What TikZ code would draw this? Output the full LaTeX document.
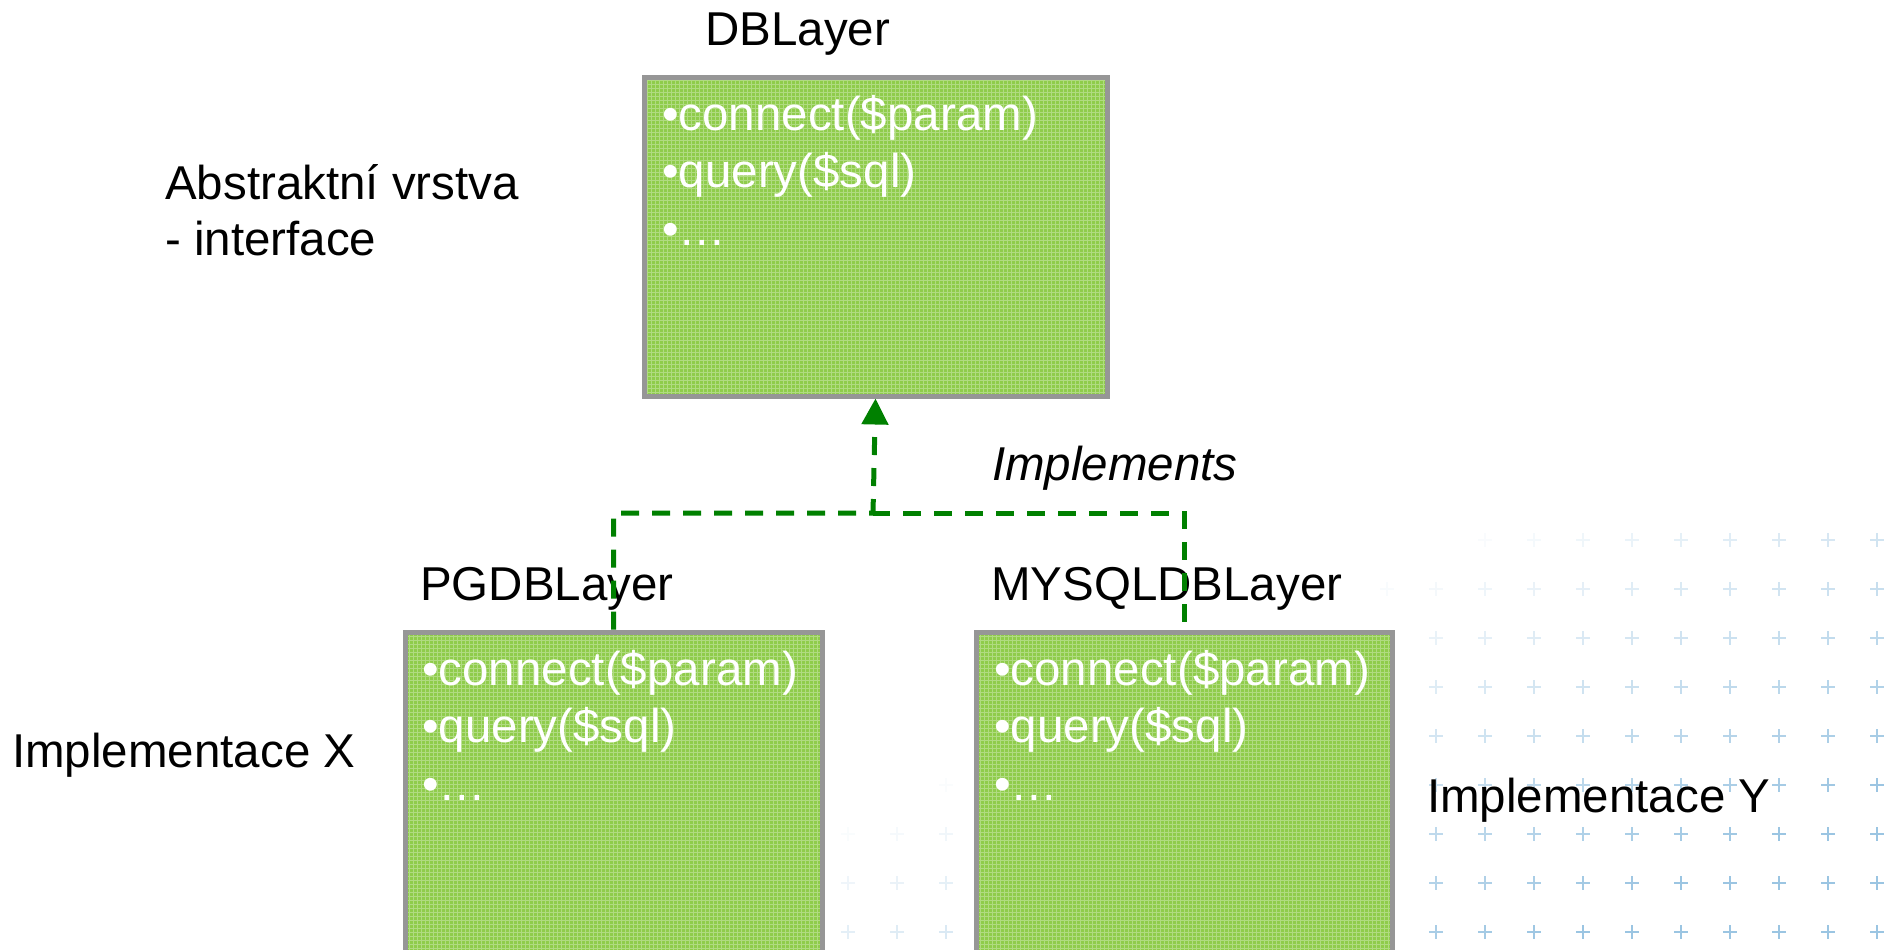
\documentclass[tikz,border=0pt]{standalone}
\usepackage{fontspec}
\setmainfont{Liberation Sans}
\usetikzlibrary{arrows.meta}
\definecolor{boxgreen}{RGB}{143,204,75}
\definecolor{boxgray}{RGB}{150,150,150}
\definecolor{impgreen}{RGB}{0,128,0}
\definecolor{crossblue}{RGB}{155,197,226}
\begin{document}
\begin{tikzpicture}[x=1pt,y=-1pt,
  classbox/.style={draw=boxgray, line width=5pt, fill=boxgreen, rectangle, inner sep=0pt, anchor=north west,
    path picture={\draw[white, opacity=0.3, line width=1pt] (path picture bounding box.south west) grid[step=4pt] (path picture bounding box.north east);}},
  lbl/.style={font=\fontsize{47.5}{56}\selectfont, text=black, inner sep=0pt, anchor=base west},
  item/.style={lbl, text=white},
  impl/.style={draw=impgreen, line width=5pt, dash pattern=on 18pt off 13pt},
  crossst/.style={draw=crossblue, line width=2pt}]
\useasboundingbox (0,0) rectangle (1892,950);
\clip (0,0) rectangle (1892,950);
\fill[white] (0,0) rectangle (1892,950);
% background crosses
\foreach \i in {0,...,25}{
  \foreach \j in {0,...,8}{
    \pgfmathsetmacro\crx{1877-49*\i}
    \pgfmathsetmacro\cry{932-49*\j}
    \pgfmathsetmacro\crop{max(0,min(1,1.3*(0.000773*\crx+0.001685*\cry-2.021)))}
    \ifdim\crop pt>0.03pt
      \draw[crossst, opacity=\crop] (\crx-7,\cry) -- (\crx+7,\cry) (\crx,\cry-7) -- (\crx,\cry+7);
    \fi
  }
}
% boxes
\node[classbox, minimum width=463pt, minimum height=319pt] (top) at (641.5,74.5) {};
\node[classbox, minimum width=417pt, minimum height=360pt] (pg) at (402.5,629.5) {};
\node[classbox, minimum width=416pt, minimum height=360pt] (my) at (973.5,629.5) {};
% box contents
\node[item] (t1) at (662,130) {•connect(\$param)};
\node[item] (t2) at (662,187) {•query(\$sql)};
\node[item] (t3) at (662,245) {•…};
\node[item] (p1) at (422,685) {•connect(\$param)};
\node[item] (p2) at (422,742) {•query(\$sql)};
\node[item] (p3) at (422,800) {•…};
\node[item] (m1) at (994,685) {•connect(\$param)};
\node[item] (m2) at (994,742) {•query(\$sql)};
\node[item] (m3) at (994,800) {•…};
% labels
\node[lbl] (dbl) at (705,46) {DBLayer};
\node[lbl] (abs1) at (165,199) {Abstraktní vrstva};
\node[lbl] (abs2) at (165,255) {- interface};
\node[lbl, font=\fontsize{47.5}{56}\selectfont\itshape] (implbl) at (992,480) {Implements};
\node[lbl] (pgl) at (420,600) {PGDBLayer};
\node[lbl] (myl) at (991,600) {MYSQLDBLayer};
\node[lbl] (ix) at (12,767) {Implementace X};
\node[lbl] (iy) at (1427,812) {Implementace Y};
% connectors
\coordinate (j) at (873,513);
\draw[impl, -{Triangle[width=26pt,length=26pt]}] (pg.north) |- (j) -- (top.south);
\draw[impl, shorten <=8pt] (my.north) |- (j);
\end{tikzpicture}
\end{document}
